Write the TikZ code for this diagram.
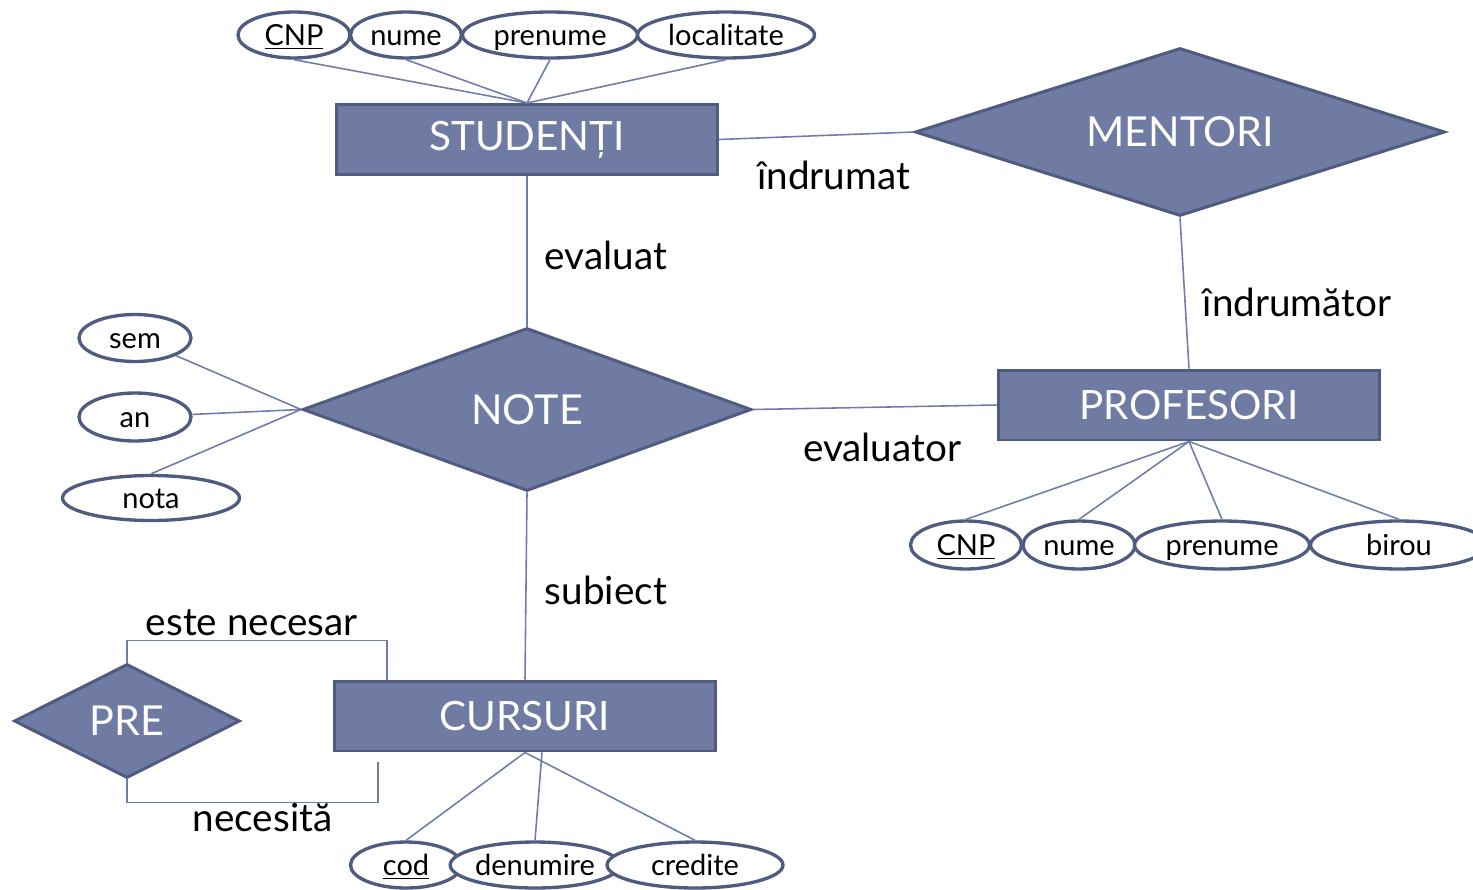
\documentclass[tikz,border=0pt]{standalone}
\usepackage{fontspec}
\setmainfont{Lato}
\usetikzlibrary{shapes.geometric}
\definecolor{erfill}{RGB}{111,123,163}
\definecolor{erborder}{RGB}{80,91,128}
\definecolor{erline}{RGB}{112,125,172}
\begin{document}
\begin{tikzpicture}[x=0.02cm,y=-0.02cm]
	\tikzstyle{every node}=[font=\fontsize{22}{26}\selectfont]
	\tikzstyle{entity}=[rectangle,draw=erborder,fill=erfill,line width=1.7pt,text=white,font=\fontsize{23}{27}\selectfont,minimum width=7.62cm,minimum height=1.4cm,inner sep=0]
	\tikzstyle{relation}=[diamond,aspect=3,draw=erborder,fill=erfill,line width=1.7pt,text=white,font=\fontsize{23.5}{28}\selectfont,inner sep=0]
	\tikzstyle{attr}=[ellipse,draw=erborder,fill=white,line width=1.9pt,font=\fontsize{16.5}{19}\selectfont,minimum height=0.92cm,inner sep=0,text height=15pt,text depth=2.5pt]
	\tikzstyle{link}=[erline,line width=0.9pt]
	\tikzstyle{lbl}=[text=black]
	\useasboundingbox (0,0) rectangle (1473,889);
	\node[entity] (studenti) at (527,139.5) {STUDENȚI};
	\node[entity,minimum width=7.64cm] (profesori) at (1189,405) {PROFESORI};
	\node[entity] (cursuri) at (525,716) {CURSURI};
	\node[relation,minimum width=10.6cm,minimum height=3.36cm] (mentori) at (1180,132) {MENTORI};
	\node[relation,minimum width=8.98cm,minimum height=3.26cm] (note) at (527,409.5) {NOTE};
	\node[relation,minimum width=4.52cm,minimum height=2.28cm] (pre) at (127,721) {PRE};
	\node[attr,minimum width=2.24cm] (scnp) at (294,35) {\underline{CNP}};
	\node[attr,minimum width=2.22cm] (snume) at (406,35) {nume};
	\node[attr,minimum width=3.5cm] (sprenume) at (550,35) {prenume};
	\node[attr,minimum width=3.54cm] (slocalitate) at (726,35) {localitate};
	\node[attr,minimum width=2.22cm,minimum height=0.96cm] (pcnp) at (966,545) {\underline{CNP}};
	\node[attr,minimum width=2.24cm,minimum height=0.96cm] (pnume) at (1079,545) {nume};
	\node[attr,minimum width=3.5cm,minimum height=0.96cm] (pprenume) at (1222,545) {prenume};
	\node[attr,minimum width=3.54cm,minimum height=0.96cm] (pbirou) at (1399,545) {birou};
	\node[attr,minimum width=2.24cm,minimum height=0.94cm] (sem) at (135,338) {sem};
	\node[attr,minimum width=2.24cm,minimum height=0.96cm] (an) at (135,417) {an};
	\node[attr,minimum width=3.54cm,minimum height=0.9cm] (nota) at (151,498) {nota};
	\node[attr,minimum width=2.22cm] (cod) at (406,865) {\underline{cod}};
	\node[attr,minimum width=2.9cm] (denumire) at (535,865) {denumire};
	\node[attr,minimum width=3.52cm] (credite) at (695,865) {credite};
	\draw[link] (scnp.south)--(studenti.north);
	\draw[link] (snume.south)--(studenti.north);
	\draw[link] (sprenume.south)--(studenti.north);
	\draw[link] (slocalitate.south)--(studenti.north);
	\draw[link] (pcnp.north)--(profesori.south);
	\draw[link] (pnume.north)--(profesori.south);
	\draw[link] (pprenume.north)--(profesori.south);
	\draw[link] (pbirou.north)--(profesori.south);
	\draw[link] (sem)--(note.west);
	\draw[link] (an)--(note.west);
	\draw[link] (nota.north)--(note.west);
	\draw[link] (cod.north)--(cursuri.south);
	\draw[link] (denumire.north)--([xshift=0.34cm]cursuri.south);
	\draw[link] (credite.north)--(cursuri.south);
	\draw[link] (studenti.east)--(mentori.west) node[lbl,pos=0.59,yshift=-0.8cm]{îndrumat};
	\draw[link] (mentori.south)--(profesori.north) node[lbl,pos=0.56,xshift=2.24cm]{îndrumător};
	\draw[link] (studenti.south)--(note.north) node[lbl,pos=0.53,xshift=1.58cm]{evaluat};
	\draw[link] (note.east)--(profesori.west) node[lbl,pos=0.53,yshift=-0.8cm]{evaluator};
	\draw[link] (note.south)--(cursuri.north) node[lbl,pos=0.526,xshift=1.6cm]{subiect};
	\draw[link] (pre.north) |- ([xshift=1.08cm,yshift=0.78cm]cursuri.north west) node[lbl,pos=0.74,yshift=0.36cm]{este necesar} -- ([xshift=1.08cm]cursuri.north west);
	\draw[link] (pre.south) |- ([xshift=0.9cm,yshift=-1cm]cursuri.south west) node[lbl,pos=0.77,yshift=-0.3cm]{necesită} -- ([xshift=0.9cm,yshift=-0.2cm]cursuri.south west);
\end{tikzpicture}
\end{document}
